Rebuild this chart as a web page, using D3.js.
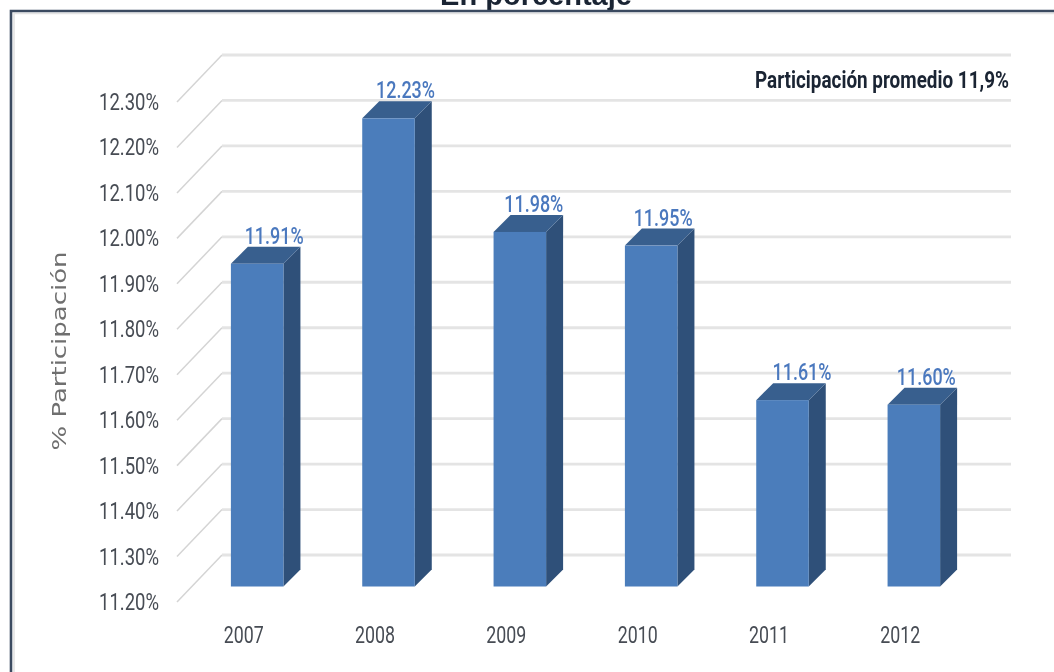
<!DOCTYPE html>
<html><head><meta charset="utf-8">
<script src="https://cdn.jsdelivr.net/npm/d3@7"></script>
<style>html,body{margin:0;padding:0;background:#fff;overflow:hidden}svg{display:block;filter:blur(0.7px)}</style></head>
<body><svg id="c" width="1054" height="672"></svg>
<script>
const years = ["2007","2008","2009","2010","2011","2012"];
const values = [11.91,12.23,11.98,11.95,11.61,11.60];
const valueLabels = ["11.91%","12.23%","11.98%","11.95%","11.61%","11.60%"];
const ticks = [11.2,11.3,11.4,11.5,11.6,11.7,11.8,11.9,12.0,12.1,12.2,12.3];
const titleText = "En porcentaje";
const yTitle = "% Participación";
const note = "Participación promedio 11,9%";
const labelNudge = [17,17,14,12,19.5,12.5];

const svg = d3.select("#c");
const narrow = "Roboto,'Open Sans',sans-serif";
const y = d3.scaleLinear().domain([11.2,12.3]).range([602,102]);
const x = d3.scaleBand().domain(years).range([191.5,979.5]).paddingInner(0.6).paddingOuter(0.3);
const depthX=45, depthY=47, barDepth=17, barShiftY=15.5;

// title (clipped by the top edge, as in the reference)
svg.append("text").attr("x",536).attr("y",5).attr("text-anchor","middle")
  .attr("font-family","'Liberation Sans',Arial,sans-serif").attr("font-weight","bold").attr("font-size",29).attr("fill","#1a2433").text(titleText);

// frame
const frame = svg.append("g");
frame.append("path").attr("d","M14,672V13.5H1054").attr("fill","none").attr("stroke","#e3e3e3").attr("stroke-width",1.6);
frame.append("path").attr("d","M11,672V11H1054").attr("fill","none").attr("stroke","#3b4a60").attr("stroke-width",2.6);

// gridlines
const grid = svg.append("g");
ticks.forEach(t=>{
  const v = y(t);
  grid.append("path").attr("d",`M177,${v}L${177+depthX},${v-depthY}`).attr("fill","none").attr("stroke","#d4d4d4").attr("stroke-width",1.5);
  grid.append("path").attr("d",`M${177+depthX},${v-depthY}H1011`).attr("fill","none").attr("stroke","#e4e4e4").attr("stroke-width",2.8);
});

// tick labels
const tl = svg.append("g");
tl.selectAll("text").data(ticks).join("text")
  .attr("x",159).attr("y",d=>y(d)+8).attr("text-anchor","end")
  .attr("font-family",narrow).attr("font-size",24).attr("fill","#474c54")
  .attr("textLength",60).attr("lengthAdjust","spacingAndGlyphs")
  .text(d=>d.toFixed(2)+"%");

// x labels
tl.append("g").selectAll("text").data(years).join("text")
  .attr("x",d=>x(d)+x.bandwidth()/2-13.5).attr("y",643).attr("text-anchor","middle")
  .attr("font-family",narrow).attr("font-size",24).attr("fill","#474c54")
  .attr("textLength",40).attr("lengthAdjust","spacingAndGlyphs").text(d=>d);

// y title
svg.append("text").attr("transform","translate(66,351) rotate(-90)").attr("text-anchor","middle")
  .attr("font-family","'DejaVu Sans',sans-serif").attr("font-size",20).attr("fill","#6f6f6f")
  .attr("textLength",199).attr("lengthAdjust","spacingAndGlyphs").text(yTitle);

// bars
const rows = years.map((d,i)=>({year:d,v:values[i],label:valueLabels[i],nudge:labelNudge[i]}));
const barBase = y(11.2)-barShiftY;
const bars = svg.append("g").selectAll("g").data(rows).join("g");
bars.append("polygon").attr("fill","#2f5079").attr("points",d=>{
  const l=x(d.year)+x.bandwidth(), t=y(d.v)-barShiftY;
  return [[l,t],[l+barDepth,t-barDepth],[l+barDepth,barBase-barDepth],[l,barBase]].join(" ");
});
bars.append("polygon").attr("fill","#385f8e").attr("points",d=>{
  const l=x(d.year), r=l+x.bandwidth(), t=y(d.v)-barShiftY;
  return [[l,t],[l+barDepth,t-barDepth],[r+barDepth,t-barDepth],[r,t]].join(" ");
});
bars.append("rect").attr("fill","#4b7dbb").attr("x",d=>x(d.year)).attr("width",x.bandwidth())
  .attr("y",d=>y(d.v)-barShiftY).attr("height",d=>barBase-(y(d.v)-barShiftY));

// value labels
svg.append("g").selectAll("text").data(rows).join("text")
  .attr("x",d=>x(d.year)+x.bandwidth()/2+d.nudge).attr("y",d=>y(d.v)-barShiftY-20)
  .attr("text-anchor","middle").attr("font-family",narrow).attr("font-weight",500).attr("font-size",23).attr("fill","#4a78be")
  .attr("textLength",59).attr("lengthAdjust","spacingAndGlyphs").text(d=>d.label);

// note
svg.append("text").attr("x",755).attr("y",88).attr("text-anchor","start").attr("font-family",narrow)
  .attr("font-weight","bold").attr("font-size",23).attr("fill","#1a2433")
  .attr("textLength",254).attr("lengthAdjust","spacingAndGlyphs").text(note);
</script></body></html>
